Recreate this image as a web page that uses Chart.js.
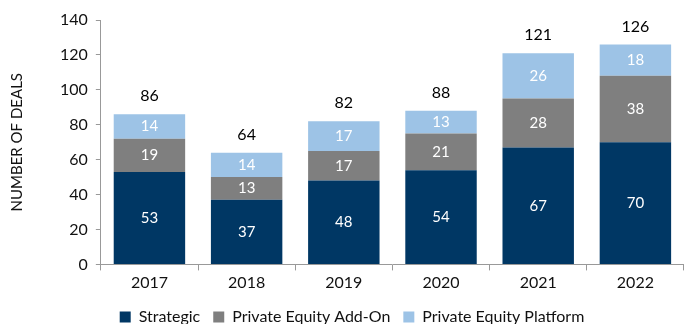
<!DOCTYPE html>
<html>
<head>
<meta charset="utf-8">
<script src="https://cdn.jsdelivr.net/npm/chart.js@4"></script>
<style>
  html, body { margin: 0; padding: 0; background: #fff; overflow: hidden; }
  #wrap { width: 684px; height: 335px; }
</style>
</head>
<body>
<div id="wrap"><canvas id="myChart" width="684" height="335"></canvas></div>
<script>
var years = ['2017', '2018', '2019', '2020', '2021', '2022'];
var strategic = [53, 37, 48, 54, 67, 70];
var peAddOn = [19, 13, 17, 21, 28, 38];
var pePlatform = [14, 14, 17, 13, 26, 18];
var yTicks = [0, 20, 40, 60, 80, 100, 120, 140];

Chart.defaults.font.family = 'Lato, "Open Sans", sans-serif';
Chart.defaults.color = '#111';

// labels inside each segment plus the total on top
var labelPlugin = {
    id: 'barLabels',
    afterDatasetsDraw: function(chart) {
        var ctx = chart.ctx;
        ctx.save();
        ctx.textAlign = 'center';
        ctx.textBaseline = 'middle';
        chart.data.datasets.forEach(function(ds, i) {
            var meta = chart.getDatasetMeta(i);
            meta.data.forEach(function(bar, j) {
                ctx.fillStyle = '#fff';
                ctx.font = '15px Lato';
                ctx.fillText(ds.data[j], bar.x, (bar.y + bar.base) / 2);
            });
        });
        var last = chart.getDatasetMeta(chart.data.datasets.length - 1);
        last.data.forEach(function(bar, j) {
            var total = strategic[j] + peAddOn[j] + pePlatform[j];
            ctx.fillStyle = '#000';
            ctx.font = '16px Lato';
            ctx.fillText(total, bar.x, bar.y - 18);
        });
        ctx.restore();
    }
};

var ctx = document.getElementById('myChart').getContext('2d');
var chart = new Chart(ctx, {
    type: 'bar',
    data: {
        labels: years,
        datasets: [
            { label: 'Strategic', data: strategic, backgroundColor: '#003764' },
            { label: 'Private Equity Add-On', data: peAddOn, backgroundColor: '#7f7f7f' },
            { label: 'Private Equity Platform', data: pePlatform, backgroundColor: '#9dc3e6' }
        ]
    },
    options: {
        responsive: false,
        animation: false,
        layout: { padding: { left: 16, right: -4, top: 20, bottom: 0 } },
        datasets: {
            bar: { barPercentage: 0.735, categoryPercentage: 1.0 }
        },
        plugins: {
            legend: {
                position: 'bottom',
                labels: {
                    boxWidth: 11,
                    boxHeight: 11,
                    padding: 13,
                    font: { size: 16 },
                    color: '#111'
                }
            },
            tooltip: { enabled: false }
        },
        scales: {
            x: {
                stacked: true,
                grid: { display: true, drawOnChartArea: false, drawTicks: true, tickLength: 6, color: '#999', offset: true },
                border: { color: '#999' },
                ticks: { font: { size: 16, lineHeight: 0.6 }, color: '#111', padding: 8 }
            },
            y: {
                stacked: true,
                min: 0,
                max: 140,
                afterBuildTicks: function(axis) {
                    axis.ticks = yTicks.map(function(v) { return { value: v }; });
                },
                grid: { display: true, drawOnChartArea: false, drawTicks: true, tickLength: 5, color: '#999' },
                border: { color: '#999' },
                ticks: { font: { size: 16 }, color: '#111', padding: 8 },
                title: {
                    display: true,
                    text: 'NUMBER OF DEALS',
                    font: { size: 15 },
                    color: '#111',
                    padding: { top: -8, bottom: 26 }
                }
            }
        }
    },
    plugins: [labelPlugin]
});
</script>
</body>
</html>
